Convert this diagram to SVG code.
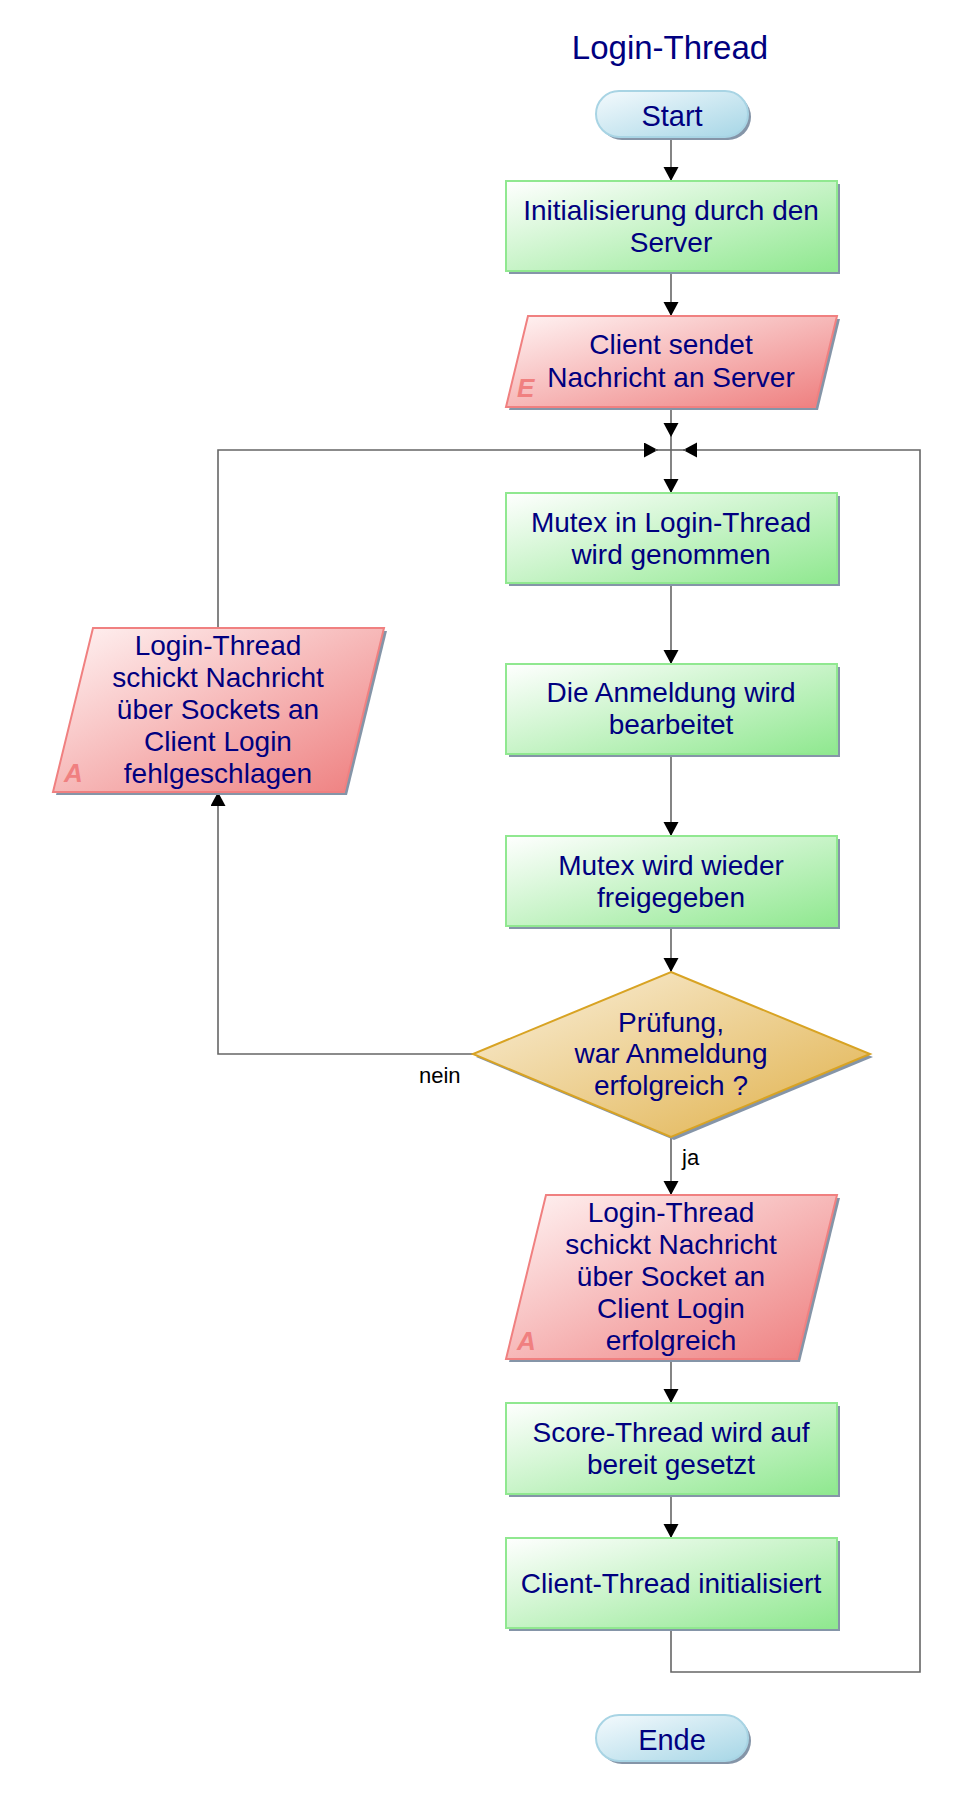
<svg xmlns="http://www.w3.org/2000/svg" width="963" height="1804" viewBox="0 0 963 1804">
<defs>
<linearGradient id="gGreen" x1="0" y1="0" x2="1" y2="1"><stop offset="0" stop-color="#ffffff"/><stop offset="1" stop-color="#8fe88f"/></linearGradient>
<linearGradient id="gRed" x1="0" y1="0" x2="1" y2="1"><stop offset="0" stop-color="#fff4f4"/><stop offset="1" stop-color="#ee7d7d"/></linearGradient>
<linearGradient id="gGold" x1="0" y1="0" x2="1" y2="1"><stop offset="0" stop-color="#faf0dc"/><stop offset="1" stop-color="#e0b048"/></linearGradient>
<linearGradient id="gBlue" x1="0" y1="0" x2="1" y2="1"><stop offset="0" stop-color="#f4fafd"/><stop offset="1" stop-color="#a6d6e6"/></linearGradient>
<marker id="arr" markerUnits="userSpaceOnUse" markerWidth="16" markerHeight="16" refX="14" refY="7.5" orient="auto" viewBox="0 0 16 16">
<path d="M0,0 L14,7.5 L0,15 Z" fill="#000"/>
</marker>
<style>
.t{font-family:"Liberation Sans",Arial,sans-serif;font-size:28px;fill:#000080;text-anchor:middle}
.pill{font-size:29px}
.title{font-size:33px}
.lbl{font-family:"Liberation Sans",Arial,sans-serif;font-size:22px;fill:#000}
.tag{font-family:"Liberation Sans",Arial,sans-serif;font-size:26px;font-weight:bold;font-style:italic;fill:#f08080}
.sh{fill:#8595a8}
.box{fill:url(#gGreen);stroke:#90e890;stroke-width:2}
.io{fill:url(#gRed);stroke:#f08080;stroke-width:2}
.dec{fill:url(#gGold);stroke:#d8a323;stroke-width:2}
.term{fill:url(#gBlue);stroke:#a8d4e4;stroke-width:2}
.c{fill:none;stroke:#666;stroke-width:1.6}
.ca{fill:none;stroke:#666;stroke-width:1.6;marker-end:url(#arr)}
</style>
</defs>
<rect width="963" height="1804" fill="#fff"/>
<text class="t title" x="670" y="59">Login-Thread</text>

<g id="connectors">
<line class="ca" x1="671" y1="137" x2="671" y2="181"/>
<line class="ca" x1="671" y1="271" x2="671" y2="316"/>
<line class="ca" x1="671" y1="407" x2="671" y2="437"/>
<line class="ca" x1="671" y1="437" x2="671" y2="493"/>
<polyline class="ca" points="218,628 218,450 658,450"/>
<line class="c" x1="655" y1="450" x2="671" y2="450"/>
<polyline class="ca" points="671,1628 671,1672 920,1672 920,450 683,450"/>
<line class="c" x1="686" y1="450" x2="671" y2="450"/>
<line class="ca" x1="671" y1="583" x2="671" y2="664"/>
<line class="ca" x1="671" y1="754" x2="671" y2="836"/>
<line class="ca" x1="671" y1="927" x2="671" y2="972"/>
<line class="ca" x1="671" y1="1137" x2="671" y2="1195"/>
<polyline class="ca" points="473,1054 218,1054 218,792"/>
<line class="ca" x1="671" y1="1359" x2="671" y2="1403"/>
<line class="ca" x1="671" y1="1494" x2="671" y2="1538"/>
<text class="lbl" x="419" y="1083">nein</text>
<text class="lbl" x="682" y="1165">ja</text>
</g>

<g id="start">
<rect class="sh" x="599" y="94" width="152" height="46" rx="23"/>
<rect class="term" x="596" y="91" width="152" height="46" rx="23"/>
<text class="t pill" x="672" y="126">Start</text>
</g>

<g id="init">
<rect class="sh" x="509" y="184" width="331" height="90"/>
<rect class="box" x="506" y="181" width="331" height="90"/>
<text class="t" x="671" y="220">Initialisierung durch den</text>
<text class="t" x="671" y="252">Server</text>
</g>

<g id="client-sendet">
<polygon class="sh" points="531,319 840,319 818,410 509,410"/>
<polygon class="io" points="528,316 837,316 815,407 506,407"/>
<text class="tag" x="517" y="397">E</text>
<text class="t" x="671" y="354">Client sendet</text>
<text class="t" x="671" y="387">Nachricht an Server</text>
</g>

<g id="mutex-take">
<rect class="sh" x="509" y="496" width="331" height="90"/>
<rect class="box" x="506" y="493" width="331" height="90"/>
<text class="t" x="671" y="532">Mutex in Login-Thread</text>
<text class="t" x="671" y="564">wird genommen</text>
</g>

<g id="anmeldung">
<rect class="sh" x="509" y="667" width="331" height="90"/>
<rect class="box" x="506" y="664" width="331" height="90"/>
<text class="t" x="671" y="702">Die Anmeldung wird</text>
<text class="t" x="671" y="734">bearbeitet</text>
</g>

<g id="mutex-release">
<rect class="sh" x="509" y="839" width="331" height="90"/>
<rect class="box" x="506" y="836" width="331" height="90"/>
<text class="t" x="671" y="875">Mutex wird wieder</text>
<text class="t" x="671" y="907">freigegeben</text>
</g>

<g id="pruefung">
<polygon class="sh" points="674,975 873,1057 674,1140 476,1057"/>
<polygon class="dec" points="671,972 870,1054 671,1137 473,1054"/>
<text class="t" x="671" y="1032">Prüfung,</text>
<text class="t" x="671" y="1063">war Anmeldung</text>
<text class="t" x="671" y="1095">erfolgreich ?</text>
</g>

<g id="fehlgeschlagen">
<polygon class="sh" points="96,631 387,631 347,795 56,795"/>
<polygon class="io" points="93,628 384,628 344,792 53,792"/>
<text class="tag" x="64" y="782">A</text>
<text class="t" x="218" y="655">Login-Thread</text>
<text class="t" x="218" y="687">schickt Nachricht</text>
<text class="t" x="218" y="719">über Sockets an</text>
<text class="t" x="218" y="751">Client Login</text>
<text class="t" x="218" y="783">fehlgeschlagen</text>
</g>

<g id="erfolgreich">
<polygon class="sh" points="549,1198 840,1198 800,1362 509,1362"/>
<polygon class="io" points="546,1195 837,1195 797,1359 506,1359"/>
<text class="tag" x="517" y="1350">A</text>
<text class="t" x="671" y="1222">Login-Thread</text>
<text class="t" x="671" y="1254">schickt Nachricht</text>
<text class="t" x="671" y="1286">über Socket an</text>
<text class="t" x="671" y="1318">Client Login</text>
<text class="t" x="671" y="1350">erfolgreich</text>
</g>

<g id="score">
<rect class="sh" x="509" y="1406" width="331" height="91"/>
<rect class="box" x="506" y="1403" width="331" height="91"/>
<text class="t" x="671" y="1442">Score-Thread wird auf</text>
<text class="t" x="671" y="1474">bereit gesetzt</text>
</g>

<g id="client-thread">
<rect class="sh" x="509" y="1541" width="331" height="90"/>
<rect class="box" x="506" y="1538" width="331" height="90"/>
<text class="t" x="671" y="1593">Client-Thread initialisiert</text>
</g>

<g id="ende">
<rect class="sh" x="599" y="1718" width="152" height="46" rx="23"/>
<rect class="term" x="596" y="1715" width="152" height="46" rx="23"/>
<text class="t pill" x="672" y="1750">Ende</text>
</g>
</svg>
